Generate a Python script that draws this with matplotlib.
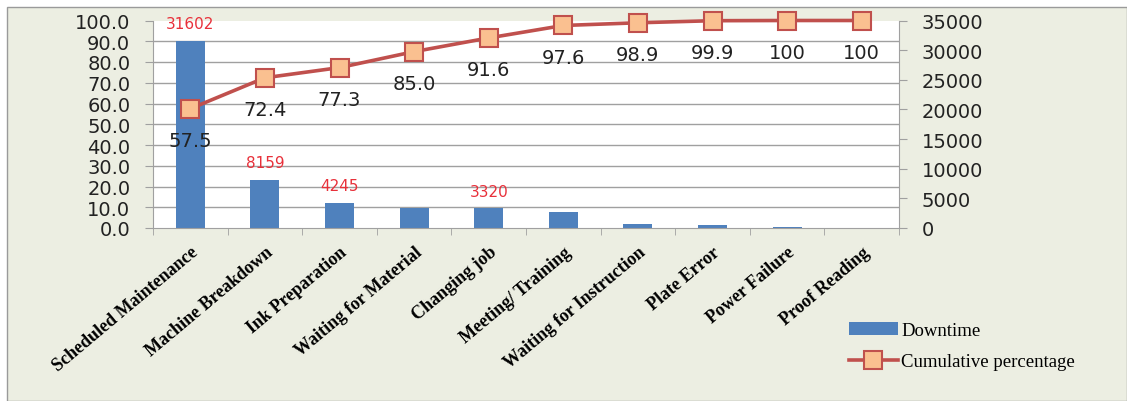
import numpy as np
import matplotlib
matplotlib.use("Agg")
import matplotlib.pyplot as plt
from matplotlib.patches import Rectangle
from matplotlib.ticker import FormatStrFormatter, FixedLocator

causes = ["Scheduled Maintenance", "Machine Breakdown", "Ink Preparation",
          "Waiting for Material", "Changing job", "Meeting/ Training",
          "Waiting for Instruction", "Plate Error", "Power Failure", "Proof Reading"]
downtime = [31602, 8159, 4245, 3380, 3320, 2680, 720, 550, 220, 20]
cumulative = [57.5, 72.4, 77.3, 85.0, 91.6, 97.6, 98.9, 99.9, 100, 100]
cum_labels = ["57.5", "72.4", "77.3", "85.0", "91.6", "97.6", "98.9", "99.9", "100", "100"]
bar_labels = {0: "31602", 1: "8159", 2: "4245", 4: "3320"}

BLUE, RED, ORANGE = "#4F81BD", "#C0504D", "#FAC090"
BG = "#ECEEE2"
GRID = "#A0A0A0"
W, H = 1127, 402

fig = plt.figure(figsize=(W / 100, H / 100), dpi=100)
fig.patch.set_facecolor("white")
fig.patches.append(Rectangle((7 / W, 0), 1 - 7 / W, 1 - 8 / H, transform=fig.transFigure,
                             facecolor=BG, edgecolor="#9A9A9A", lw=1, zorder=-5))

ax = fig.add_axes([153 / W, 1 - 229 / H, (899 - 153) / W, (229 - 21.5) / H])
ax2 = ax.twinx()
ax.set_facecolor("white")
x = np.arange(len(causes))

# bars on the 0-35000 scale (right side)
ax.bar(x, downtime, width=0.39, color=BLUE, zorder=2, label="Downtime")
ax.set_ylim(0, 35000)
ax.set_xlim(-0.5, len(causes) - 0.5)
ax.yaxis.tick_right()
ax.set_yticks(range(0, 35001, 5000))
ax.yaxis.set_minor_locator(FixedLocator(np.arange(3500, 35001, 3500)))
ax.grid(which="minor", axis="y", color=GRID, lw=1)
ax.tick_params(axis="y", which="minor", length=0)
ax.tick_params(axis="y", which="major", labelsize=14, length=5.8, color=GRID,
               labelcolor="#222222", pad=10.5)
ax.set_axisbelow(True)
for i, t in bar_labels.items():
    ax.annotate(t, (x[i], downtime[i]), xytext=(0, 7), textcoords="offset points",
                ha="center", va="bottom", color="#E8303A", fontsize=11)

ax.set_xticks(x)
ax.set_xticklabels(causes, rotation=40, ha="right", va="top", rotation_mode="anchor",
                   family="Liberation Serif", fontweight="bold", fontsize=13)
ax.tick_params(axis="x", which="major", length=0, pad=11)
ax.xaxis.set_minor_locator(FixedLocator(np.arange(-0.5, len(causes), 1.0)))
ax.tick_params(axis="x", which="minor", length=5, color=GRID)
ax.spines["top"].set_visible(False)
for s in ["left", "right", "bottom"]:
    ax.spines[s].set_color(GRID)

# cumulative line on the 0-100 scale (left side)
ax2.yaxis.tick_left()
ax2.set_ylim(0, 100)
ax2.set_yticks(range(0, 101, 10))
ax2.yaxis.set_major_formatter(FormatStrFormatter("%.1f"))
ax2.tick_params(axis="y", labelsize=14, length=5.8, color=GRID, labelcolor="#222222", pad=10.5)
for s in ["top", "right", "left", "bottom"]:
    ax2.spines[s].set_visible(False)
ax2.plot(x, cumulative, color=RED, lw=2.6, marker="s", ms=13, mfc=ORANGE, mec=RED, mew=1.5,
         zorder=3, label="Cumulative percentage", clip_on=False)
for xi, v, t in zip(x, cumulative, cum_labels):
    ax2.annotate(t, (xi, v), xytext=(0, -16), textcoords="offset points",
                 ha="center", va="top", color="#222222", fontsize=14)

h1, l1 = ax.get_legend_handles_labels()
h2, l2 = ax2.get_legend_handles_labels()
fig.legend(h1 + h2, l1 + l2, loc="upper left", bbox_to_anchor=(832 / W, 1 - 306 / H),
           frameon=False, prop={"family": "Liberation Serif", "size": 13.5},
           handlelength=2.6, handletextpad=0.2, labelspacing=0.75)

fig.savefig("out.png", dpi=100, facecolor=fig.get_facecolor())
